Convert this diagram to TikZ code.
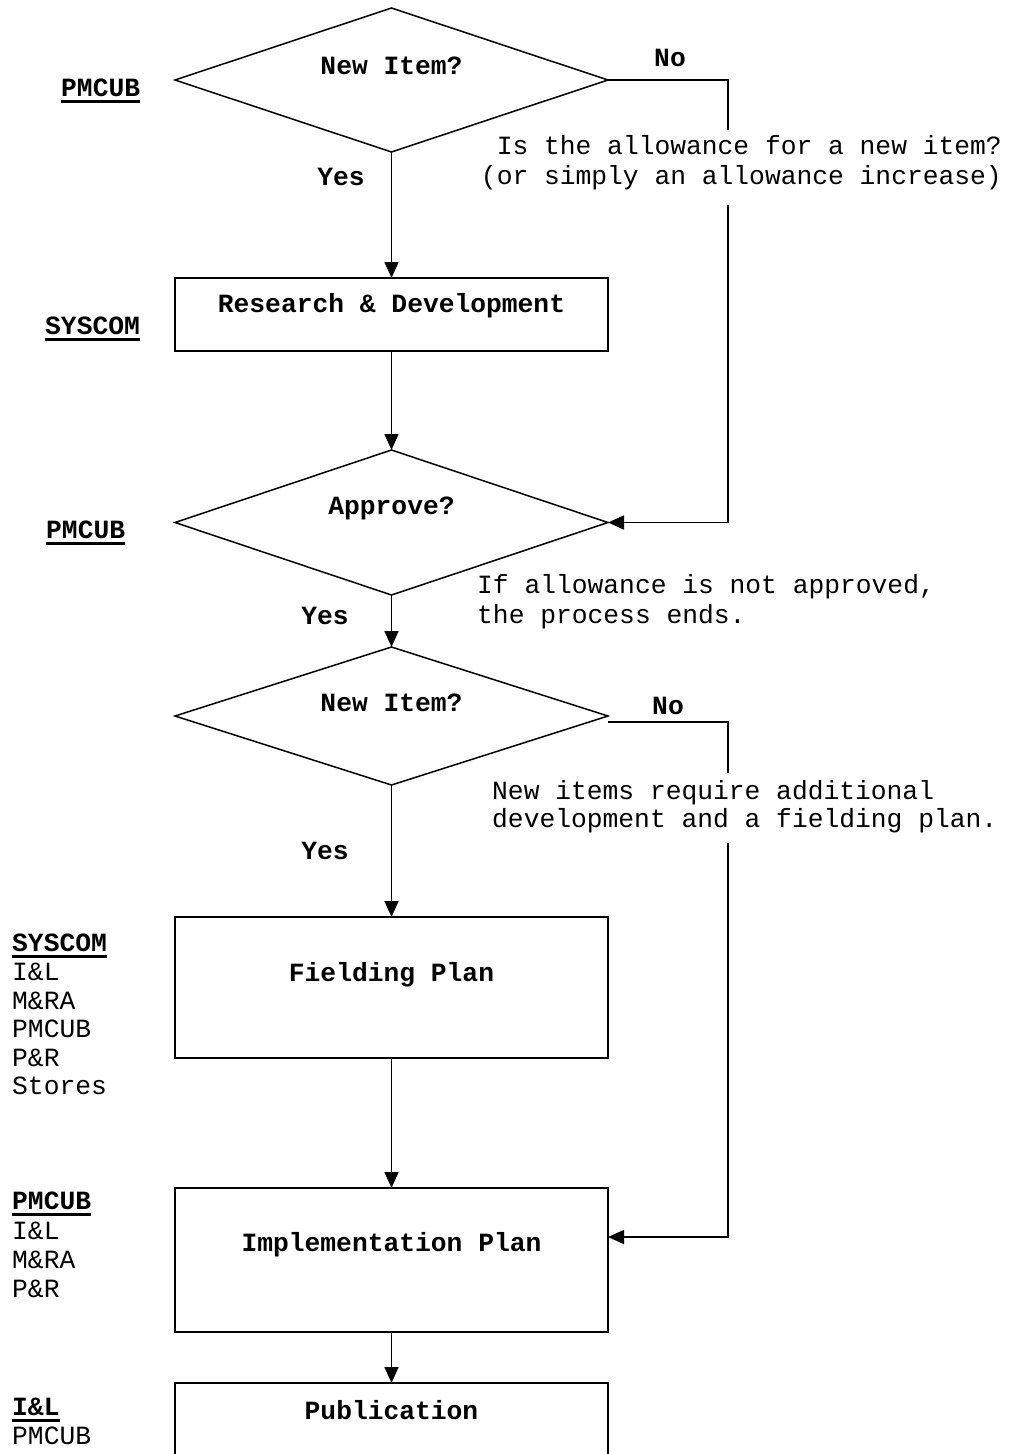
\documentclass[tikz,border=0pt]{standalone}
\usepackage{fontspec}
\setmainfont{Liberation Mono}
\usetikzlibrary{shapes.geometric,arrows.meta}
\newsavebox\ulbx
\newcommand\ulb[1]{\leavevmode\sbox\ulbx{\bfseries #1}\rlap{\raisebox{-6pt}{\rule{\wd\ulbx}{2.5pt}}}\usebox\ulbx}
\begin{document}
\begin{tikzpicture}[x=1pt,y=-1pt,
  >={Triangle[length=16pt,width=14pt]},
  font=\fontsize{26.3}{30}\selectfont,
  dec/.style={draw, diamond, line width=1.5pt, minimum width=433pt, inner sep=0pt, outer sep=0pt},
  stepbox/.style={draw, rectangle, line width=2pt, minimum width=433pt, inner sep=0pt, outer sep=0pt},
  conn/.style={line width=1.6pt},
  inlab/.style={anchor=center, font=\fontsize{26.3}{30}\selectfont\bfseries},
  yesno/.style={font=\fontsize{26.3}{30}\selectfont\bfseries, inner sep=0pt},
  note/.style={inner sep=0pt},
  who/.style={anchor=north west, align=left, inner sep=0pt, font=\fontsize{26.3}{28.6}\selectfont}
]
\useasboundingbox[fill=white] (0,0) rectangle (1011,1454);

% decisions
\node[dec, minimum height=144pt, label={[inlab, yshift=14pt]center:New Item?}] (d1) at (391.5,80) {};
\node[dec, minimum height=145pt, label={[inlab, yshift=14.5pt]center:Approve?}] (d2) at (391.5,522.5) {};
\node[dec, minimum height=138pt, label={[inlab, yshift=13pt]center:New Item?}] (d3) at (391.5,716) {};

% boxes
\node[stepbox, minimum height=73pt, label={[inlab, yshift=-28pt]north:Research \& Development}] (rd) at (391.5,314.5) {};
\node[stepbox, minimum height=141pt, label={[inlab, yshift=-58pt]north:Fielding Plan}] (fp) at (391.5,987.5) {};
\node[stepbox, minimum height=144pt, label={[inlab, yshift=-57pt]north:Implementation Plan}] (ip) at (391.5,1260) {};
\node[rectangle, minimum width=433pt, minimum height=73pt, inner sep=0pt, outer sep=0pt,
      label={[inlab, yshift=-27pt]north:Publication}] (pub) at (391.5,1419.5) {};
\draw[line width=2pt] (pub.south west) -- (pub.north west) -- (pub.north east) -- (pub.south east);

% vertical flow
\draw[conn,->] (d1.south) -- (rd.north);
\draw[conn,->] (rd.south) -- (d2.north);
\draw[conn,->] (d2.south) -- (d3.north);
\draw[conn,->] (d3.south) -- (fp.north);
\draw[conn,->] (fp.south) -- (ip.north);
\draw[conn,->] (ip.south) -- (pub.north);

% "No" branches
\coordinate (r1) at (728,80);
\coordinate (g1a) at (728,130);
\coordinate (g1b) at (728,205);
\draw[conn] (d1.east) -- (r1) -- (g1a);
\draw[conn,->] (g1b) |- (d2.east);

\coordinate (r2) at (728,722);
\coordinate (g2a) at (728,773);
\coordinate (g2b) at (728,843);
\draw[conn] ([yshift=-6pt]d3.east) -- (r2) -- (g2a);
\draw[conn,->] (g2b) |- ([yshift=23pt]ip.east);

% yes / no labels
\node[yesno] (no1) at (670,58) {No};
\node[yesno] (yes1) at (341,177) {Yes};
\node[yesno] (yes2) at (325,616) {Yes};
\node[yesno] (no2) at (668,706) {No};
\node[yesno] (yes3) at (325,851) {Yes};

% notes
\node[note, anchor=east, align=right] (n1) at (1002,163) {Is the allowance for a new item?\\(or simply an allowance increase)};
\node[note, anchor=west, align=left] (n2) at (477,602) {If allowance is not approved,\\the process ends.};
\node[note, anchor=west, align=left, font=\fontsize{26.3}{28.3}\selectfont] (n3) at (492,807) {New items require additional\\development and a fielding plan.};

% responsible parties
\node[anchor=base west, inner sep=0pt] (w1) at (61,96.5) {\ulb{PMCUB}};
\node[anchor=base west, inner sep=0pt] (w2) at (45,334.5) {\ulb{SYSCOM}};
\node[anchor=base west, inner sep=0pt] (w3) at (46,538.5) {\ulb{PMCUB}};
\node[who] (w4) at (12,934) {\ulb{SYSCOM}\\I\&L\\M\&RA\\PMCUB\\P\&R\\Stores};
\node[who] (w5) at (12,1192) {\ulb{PMCUB}\\[1.5pt]I\&L\\M\&RA\\P\&R};
\node[who] (w6) at (12,1398) {\ulb{I\&L}\\PMCUB};
\end{tikzpicture}
\end{document}
